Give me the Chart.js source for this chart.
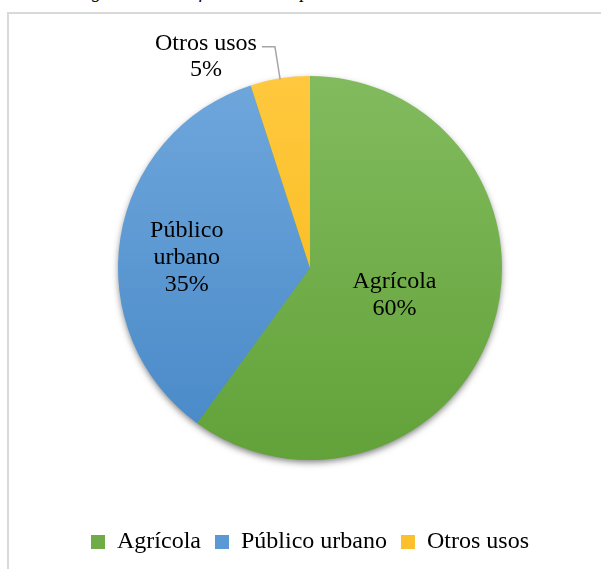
<!DOCTYPE html>
<html>
<head>
<meta charset="utf-8">
<script src="https://cdn.jsdelivr.net/npm/chart.js@4.4.1/dist/chart.umd.min.js"></script>
<style>
  body { margin: 0; background: #fff; }
  #wrap { position: relative; width: 601px; height: 569px; overflow: hidden; }
  #caption { position: absolute; left: 6px; top: -18px; font: italic 19px "Liberation Serif", serif; line-height: 19px; white-space: nowrap; color: #000; }
  #frame { position: absolute; left: 7px; top: 12px; width: 640px; height: 640px; border: 2px solid #d9d9d9; box-sizing: border-box; }
  #usoChart { position: absolute; left: 0; top: 0; }
</style>
</head>
<body>
<div id="wrap">
  <div id="caption">de uso de agua en el acuífero Guadalupe.</div>
  <div id="frame"></div>
  <canvas id="usoChart" width="601" height="569"></canvas>
</div>
<script>
const categorias = ['Agrícola', 'Público urbano', 'Otros usos'];
const porcentajes = [60, 35, 5];
const etiquetas = [['Agrícola', '60%'], ['Público', 'urbano', '35%'], ['Otros usos', '5%']];

const colTop = ['#82bb5e', '#6fa7dc', '#ffc83e'];
const colBottom = ['#62a239', '#4788c7', '#f6b813'];
const colLeyenda = ['#6fac48', '#5b98d4', '#fbc02b'];

function gradiente(context) {
  const chart = context.chart;
  const area = chart.chartArea;
  if (!area) return colTop[context.dataIndex];
  const cy = (area.top + area.bottom) / 2;
  const g = chart.ctx.createLinearGradient(0, cy - 192, 0, cy + 192);
  g.addColorStop(0, colTop[context.dataIndex]);
  g.addColorStop(1, colBottom[context.dataIndex]);
  return g;
}

const sombra = {
  id: 'sombra',
  beforeDatasetsDraw(chart) {
    const arc = chart.getDatasetMeta(0).data[0];
    if (!arc) return;
    const ctx = chart.ctx;
    ctx.save();
    ctx.shadowColor = 'rgba(0,0,0,0.55)';
    ctx.shadowBlur = 7;
    ctx.shadowOffsetY = 3;
    ctx.fillStyle = '#6aa540';
    ctx.beginPath();
    ctx.arc(arc.x, arc.y, arc.outerRadius - 1, 0, Math.PI * 2);
    ctx.fill();
    ctx.restore();
  }
};

const rotulos = {
  id: 'rotulos',
  afterDatasetsDraw(chart) {
    const ctx = chart.ctx;
    const meta = chart.getDatasetMeta(0);
    const frac = [0.43, 0.65, null];
    const dx = [6, 0, 0];
    const dy = [2, 9, 0];
    ctx.save();
    ctx.font = '24px "Liberation Serif", serif';
    ctx.fillStyle = '#000';
    ctx.textBaseline = 'middle';
    meta.data.forEach((arc, i) => {
      const p = arc.getProps(['x', 'y', 'startAngle', 'endAngle', 'outerRadius']);
      const mid = (p.startAngle + p.endAngle) / 2;
      const lines = etiquetas[i];
      if (frac[i] !== null) {
        const cx = p.x + Math.cos(mid) * p.outerRadius * frac[i] + dx[i];
        const cy = p.y + Math.sin(mid) * p.outerRadius * frac[i] + dy[i];
        ctx.textAlign = 'center';
        const y0 = cy - (lines.length - 1) * 27 / 2;
        lines.forEach((t, k) => ctx.fillText(t, cx, y0 + k * 27));
      } else {
        // etiqueta exterior con línea guía
        const ax = p.x + Math.cos(mid) * (p.outerRadius - 1);
        const ay = p.y + Math.sin(mid) * (p.outerRadius - 1);
        const bx = p.x + Math.cos(mid) * (p.outerRadius + 32);
        const by = p.y + Math.sin(mid) * (p.outerRadius + 32);
        ctx.strokeStyle = '#a6a6a6';
        ctx.lineWidth = 1.5;
        ctx.beginPath();
        ctx.moveTo(ax, ay);
        ctx.lineTo(bx, by);
        ctx.lineTo(bx - 13, by);
        ctx.stroke();
        ctx.textAlign = 'center';
        const cx = bx - 69;
        lines.forEach((t, k) => ctx.fillText(t, cx, by - 3 + k * 26));
      }
    });
    ctx.restore();
  }
};

new Chart(document.getElementById('usoChart'), {
  type: 'pie',
  data: {
    labels: categorias,
    datasets: [{
      data: porcentajes,
      backgroundColor: gradiente,
      borderWidth: 0,
      radius: 192
    }]
  },
  options: {
    responsive: false,
    animation: false,
    layout: { padding: { top: 20, left: 22, right: 3, bottom: 5 } },
    plugins: {
      tooltip: { enabled: false },
      legend: {
        position: 'bottom',
        labels: {
          boxWidth: 14,
          boxHeight: 14,
          padding: 14,
          color: '#595959',
          font: { family: '"Liberation Serif", serif', size: 24 },
          generateLabels(chart) {
            return categorias.map((c, i) => ({
              text: c,
              fillStyle: colLeyenda[i],
              strokeStyle: 'transparent',
              lineWidth: 0,
              index: i
            }));
          }
        }
      }
    }
  },
  plugins: [sombra, rotulos]
});
</script>
</body>
</html>
